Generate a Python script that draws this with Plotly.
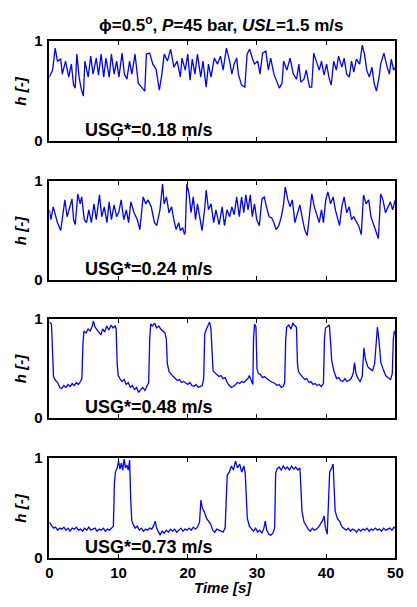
import plotly.graph_objects as go

# ---------------- data ----------------
t1 = [0.00,0.47,0.84,1.17,1.64,1.87,2.34,2.80,3.18,3.50,3.74,3.97,4.30,4.58,4.91,5.14,5.61,5.98,6.31,6.78,
      7.10,7.48,7.85,8.18,8.64,8.97,9.35,9.72,10.05,10.51,10.84,11.21,11.59,11.92,12.38,12.85,13.32,13.79,14.02,14.49,
      14.95,15.42,15.89,16.26,16.59,17.06,17.52,17.99,18.46,18.93,19.16,19.63,20.00,20.33,20.65,21.03,21.40,21.87,22.20,22.66,
      22.99,23.36,23.83,24.30,24.74,25.11,25.58,26.05,26.37,26.70,27.07,27.31,27.77,28.24,28.57,28.94,29.32,29.64,30.11,30.44,
      30.81,31.28,31.65,31.98,32.45,32.91,33.24,33.62,33.85,34.32,34.78,35.25,35.72,36.05,36.33,36.79,37.12,37.59,37.91,38.20,
      38.52,38.99,39.32,39.69,40.06,40.39,40.72,41.09,41.47,41.79,42.26,42.59,42.96,43.34,43.66,43.99,44.36,44.83,45.21,45.53,
      45.86,46.23,46.61,46.93,47.26,47.64,47.87,48.34,48.80,49.13,49.41,49.74,50.00]
h1 = [0.64,0.71,0.93,0.80,0.82,0.67,0.80,0.64,0.77,0.56,0.53,0.87,0.64,0.53,0.45,0.80,0.64,0.85,0.67,0.83,
      0.66,0.87,0.64,0.83,0.64,0.87,0.67,0.80,0.64,0.88,0.67,0.62,0.80,0.67,0.87,0.58,0.54,0.50,0.87,0.88,
      0.77,0.72,0.51,0.67,0.87,0.80,0.92,0.74,0.80,0.64,0.83,0.71,0.87,0.61,0.82,0.67,0.87,0.64,0.80,0.54,
      0.77,0.64,0.83,0.77,0.85,0.71,0.93,0.80,0.67,0.77,0.83,0.67,0.56,0.54,0.87,0.92,0.83,0.77,0.80,0.67,
      0.88,0.90,0.71,0.83,0.67,0.59,0.53,0.58,0.80,0.71,0.83,0.67,0.62,0.77,0.59,0.62,0.71,0.54,0.54,0.88,
      0.80,0.71,0.80,0.66,0.77,0.64,0.56,0.80,0.71,0.85,0.74,0.83,0.67,0.64,0.80,0.69,0.82,0.77,0.96,0.87,
      0.71,0.64,0.74,0.58,0.50,0.64,0.77,0.88,0.74,0.67,0.82,0.71,0.74]

t2 = [0.00,0.23,0.56,0.93,1.17,1.64,1.96,2.24,2.57,2.90,3.27,3.50,3.74,4.11,4.44,4.67,5.05,5.37,5.70,6.07,
      6.45,6.78,7.24,7.57,7.94,8.32,8.64,8.97,9.35,9.72,10.05,10.37,10.75,11.12,11.45,11.78,12.24,12.71,13.08,13.55,
      13.93,14.25,14.72,15.19,15.51,15.98,16.36,16.59,16.92,17.29,17.66,17.99,18.32,18.69,18.93,19.25,19.53,19.63,19.86,20.19,
      20.47,20.79,21.12,21.40,21.73,22.06,22.43,22.66,22.99,23.36,23.74,24.07,24.53,24.97,25.30,25.67,26.05,26.37,26.70,27.07,
      27.45,27.77,28.10,28.38,28.71,29.04,29.32,29.64,29.97,30.34,30.72,31.05,31.37,31.75,32.12,32.45,32.77,33.15,33.52,33.85,
      34.08,34.46,34.78,35.11,35.48,35.86,36.19,36.51,36.89,37.26,37.59,37.92,38.29,38.66,38.99,39.32,39.60,39.93,40.25,40.63,
      41.00,41.33,41.65,41.93,42.26,42.59,42.96,43.34,43.66,43.99,44.36,44.69,45.07,45.39,45.77,46.14,46.47,46.79,47.17,47.54,
      47.87,48.20,48.57,48.94,49.27,49.60,49.97]
h2 = [0.71,0.61,0.74,0.64,0.58,0.50,0.68,0.81,0.64,0.74,0.82,0.61,0.56,0.87,0.77,0.84,0.61,0.58,0.71,0.58,
      0.77,0.61,0.86,0.64,0.74,0.58,0.79,0.61,0.76,0.64,0.69,0.81,0.61,0.71,0.58,0.79,0.68,0.61,0.51,0.84,
      0.77,0.81,0.74,0.58,0.55,0.71,0.97,0.77,0.84,0.68,0.74,0.61,0.51,0.58,0.50,0.53,0.46,0.48,0.97,0.87,
      0.68,0.84,0.61,0.77,0.64,0.50,0.71,0.91,0.71,0.77,0.58,0.71,0.56,0.74,0.55,0.71,0.64,0.74,0.66,0.84,
      0.64,0.84,0.68,0.86,0.71,0.86,0.64,0.77,0.61,0.55,0.82,0.84,0.74,0.64,0.63,0.58,0.51,0.55,0.64,0.77,
      0.94,0.81,0.74,0.81,0.58,0.68,0.76,0.64,0.51,0.45,0.64,0.87,0.74,0.64,0.58,0.71,0.58,0.81,0.89,0.77,
      0.84,0.71,0.61,0.55,0.74,0.84,0.68,0.74,0.61,0.64,0.59,0.55,0.46,0.86,0.77,0.81,0.64,0.58,0.51,0.42,
      0.87,0.81,0.68,0.74,0.79,0.71,0.81]

t3 = [0.0,0.3,0.45,0.6,0.9,1.2,1.5,1.8,2.1,2.4,2.7,3.0,3.3,3.6,3.9,4.2,4.5,4.7,4.85,5.0,
      5.3,5.6,5.9,6.2,6.35,6.6,6.9,7.2,7.45,7.7,8.0,8.3,8.6,8.9,9.2,9.5,9.65,9.8,9.95,10.2,
      10.5,10.8,11.1,11.4,11.7,12.0,12.3,12.6,12.9,13.2,13.5,13.8,14.1,14.35,14.5,14.65,14.9,15.2,15.5,15.8,
      16.1,16.4,16.7,16.9,17.05,17.3,17.6,17.9,18.2,18.5,18.8,19.1,19.4,19.7,20.0,20.3,20.6,20.9,21.2,21.5,
      21.8,22.1,22.3,22.45,22.7,23.0,23.15,23.35,23.5,23.65,23.9,24.2,24.5,24.8,25.1,25.4,25.7,26.0,26.3,26.6,
      26.9,27.2,27.5,27.8,28.1,28.4,28.7,28.9,29.2,29.4,29.5,29.65,29.85,30.0,30.2,30.5,30.8,31.1,31.4,31.7,
      32.0,32.3,32.6,32.9,33.2,33.5,33.8,34.0,34.15,34.3,34.6,34.9,35.2,35.5,35.7,35.85,36.0,36.3,36.6,36.9,
      37.2,37.5,37.8,38.1,38.4,38.7,39.0,39.3,39.6,39.75,39.9,40.2,40.45,40.65,40.8,41.1,41.5,41.8,42.1,42.4,
      42.7,43.0,43.3,43.6,43.9,44.1,44.3,44.6,44.9,45.2,45.45,45.65,46.0,46.3,46.7,47.0,47.25,47.4,47.6,47.9,
      48.2,48.6,48.9,49.3,49.55,49.7,49.85,50.0]
h3 = [0.97,0.95,0.70,0.42,0.38,0.36,0.31,0.30,0.33,0.31,0.34,0.32,0.35,0.33,0.36,0.34,0.37,0.40,0.75,0.88,
      0.86,0.90,0.88,0.93,0.98,0.92,0.89,0.86,0.84,0.90,0.87,0.93,0.89,0.94,0.91,0.93,0.90,0.55,0.43,0.40,
      0.37,0.39,0.34,0.36,0.31,0.33,0.29,0.31,0.26,0.29,0.31,0.28,0.33,0.36,0.80,0.95,0.93,0.96,0.91,0.93,
      0.90,0.88,0.86,0.80,0.55,0.47,0.44,0.42,0.40,0.38,0.39,0.36,0.37,0.35,0.34,0.36,0.33,0.32,0.34,0.31,
      0.32,0.33,0.40,0.85,0.90,0.94,0.97,0.90,0.70,0.48,0.46,0.44,0.42,0.43,0.40,0.41,0.36,0.33,0.31,0.32,
      0.34,0.36,0.35,0.37,0.36,0.38,0.40,0.43,0.38,0.34,0.80,0.95,0.92,0.50,0.45,0.44,0.41,0.42,0.40,0.38,
      0.37,0.36,0.35,0.33,0.34,0.31,0.32,0.36,0.80,0.92,0.94,0.90,0.96,0.93,0.92,0.55,0.47,0.44,0.42,0.39,
      0.40,0.36,0.37,0.34,0.35,0.33,0.34,0.32,0.35,0.80,0.91,0.93,0.94,0.75,0.58,0.48,0.40,0.41,0.38,0.37,
      0.40,0.37,0.38,0.40,0.45,0.56,0.45,0.40,0.37,0.42,0.71,0.60,0.52,0.50,0.48,0.55,0.85,0.92,0.80,0.56,
      0.50,0.43,0.41,0.39,0.45,0.80,0.88,0.85]

t4 = [0.0,0.3,0.6,0.9,1.2,1.5,1.8,2.1,2.4,2.7,3.0,3.3,3.6,3.9,4.2,4.5,4.8,5.1,5.4,5.7,
      6.0,6.3,6.6,6.9,7.2,7.5,7.8,8.1,8.4,8.7,9.0,9.25,9.4,9.55,9.8,10.0,10.2,10.4,10.6,10.8,
      11.0,11.2,11.4,11.6,11.75,11.9,12.1,12.4,12.7,13.0,13.3,13.6,13.9,14.2,14.5,14.8,15.1,15.3,15.5,15.8,
      16.0,16.3,16.6,16.9,17.2,17.5,17.8,18.1,18.4,18.7,19.0,19.3,19.6,19.9,20.2,20.5,20.8,21.1,21.4,21.7,
      21.9,22.1,22.4,22.7,23.0,23.3,23.6,23.9,24.2,24.5,24.8,25.1,25.4,25.55,25.7,26.0,26.3,26.6,26.9,27.2,
      27.5,27.8,28.1,28.3,28.45,28.6,28.9,29.2,29.5,29.8,30.1,30.4,30.7,31.0,31.2,31.4,31.7,32.0,32.3,32.55,
      32.7,32.9,33.2,33.5,33.8,34.1,34.4,34.7,35.0,35.3,35.6,35.9,36.2,36.35,36.5,36.8,37.1,37.4,37.7,38.0,
      38.3,38.6,38.9,39.2,39.5,39.7,39.9,40.15,40.35,40.5,40.8,41.0,41.15,41.3,41.6,42.0,42.3,42.6,42.9,43.2,
      43.5,43.8,44.1,44.4,44.7,45.0,45.3,45.6,45.9,46.2,46.5,46.8,47.1,47.4,47.7,48.0,48.3,48.6,48.9,49.2,
      49.5,49.8,50.0]
h4 = [0.36,0.33,0.30,0.31,0.28,0.30,0.29,0.31,0.28,0.30,0.27,0.30,0.29,0.31,0.28,0.29,0.27,0.30,0.28,0.31,
      0.28,0.29,0.30,0.27,0.29,0.28,0.30,0.27,0.29,0.28,0.30,0.32,0.75,0.86,0.90,0.97,0.89,0.95,0.88,0.99,
      0.90,0.93,0.88,0.98,0.60,0.38,0.34,0.30,0.32,0.28,0.30,0.27,0.29,0.28,0.30,0.29,0.33,0.37,0.30,0.26,
      0.23,0.27,0.25,0.28,0.26,0.29,0.27,0.29,0.26,0.28,0.30,0.27,0.29,0.28,0.30,0.28,0.31,0.29,0.31,0.36,
      0.58,0.50,0.46,0.40,0.37,0.34,0.28,0.26,0.29,0.28,0.27,0.26,0.30,0.60,0.83,0.86,0.92,0.88,0.97,0.90,
      0.94,0.86,0.92,0.85,0.55,0.40,0.32,0.30,0.27,0.30,0.26,0.28,0.25,0.30,0.37,0.28,0.24,0.23,0.25,0.30,
      0.85,0.89,0.91,0.88,0.92,0.89,0.91,0.88,0.92,0.89,0.91,0.88,0.90,0.70,0.47,0.36,0.32,0.29,0.27,0.30,
      0.28,0.29,0.31,0.34,0.38,0.42,0.30,0.24,0.55,0.86,0.90,0.94,0.70,0.47,0.40,0.36,0.31,0.29,0.28,0.30,
      0.27,0.29,0.28,0.26,0.29,0.27,0.29,0.28,0.30,0.27,0.29,0.28,0.30,0.28,0.29,0.27,0.30,0.28,0.29,0.30,
      0.28,0.31,0.30]

labels = ["USG*=0.18 m/s", "USG*=0.24 m/s", "USG*=0.48 m/s", "USG*=0.73 m/s"]
x_ticks = [0, 10, 20, 30, 40, 50]
y_ticks = [0, 1]

# ---------------- figure ----------------
W, H = 417, 607
FONT = "Liberation Sans, Arial, sans-serif"
x0, x1 = 46.7 / W, 403 / W
panels_px = [(33, 136), (177, 279), (319, 421), (462, 565)]

fig = go.Figure()
series = [(t1, h1), (t2, h2), (t3, h3), (t4, h4)]
layout = {}
for i, ((tt, hh), (top, bot)) in enumerate(zip(series, panels_px)):
    n = i + 1
    xa = "x" if n == 1 else f"x{n}"
    ya = "y" if n == 1 else f"y{n}"
    fig.add_trace(go.Scatter(x=tt, y=hh, mode="lines", xaxis=xa, yaxis=ya,
                             line=dict(color="#0000ff", width=1.3), showlegend=False,
                             hoverinfo="skip"))
    last = (n == 4)
    layout["xaxis" if n == 1 else f"xaxis{n}"] = dict(
        domain=[x0, x1], anchor=ya, range=[0, 50], tickvals=x_ticks,
        showticklabels=last, ticks="inside", ticklen=4, tickwidth=1, tickcolor="black",
        showline=True, linecolor="black", linewidth=1.5, mirror="ticks",
        showgrid=False, zeroline=False,
        tickfont=dict(family=FONT, size=15, color="black", weight="bold"),
    )
    layout["yaxis" if n == 1 else f"yaxis{n}"] = dict(
        domain=[1 - bot / H, 1 - top / H], anchor=xa, range=[0, 1], tickvals=y_ticks,
        ticks="inside", ticklen=4, tickwidth=1, tickcolor="black",
        showline=True, linecolor="black", linewidth=1.5, mirror="ticks",
        showgrid=False, zeroline=False, ticklabelstandoff=2,
        tickfont=dict(family=FONT, size=15, color="black", weight="bold"),
    )

annotations = []
for i, (top, bot) in enumerate(panels_px):
    annotations.append(dict(xref="paper", yref="paper", x=81 / W, y=1 - (bot - 12) / H,
                            xanchor="left", yanchor="middle", showarrow=False,
                            text="<b>" + labels[i] + "</b>",
                            font=dict(family=FONT, size=18, color="black")))
    annotations.append(dict(xref="paper", yref="paper", x=17 / W, y=1 - ((top + bot) / 2) / H,
                            xanchor="center", yanchor="middle", showarrow=False, textangle=-90,
                            text="<b><i>h [-]</i></b>",
                            font=dict(family=FONT, size=15, color="black")))
annotations.append(dict(xref="paper", yref="paper", x=223 / W, y=1 - 15 / H,
                        xanchor="center", yanchor="middle", showarrow=False,
                        text="<b>ϕ=0.5<sup>o</sup>, <i>P</i>=45 bar, <i>USL</i>=1.5 m/s</b>",
                        font=dict(family=FONT, size=17, color="black")))
annotations.append(dict(xref="paper", yref="paper", x=225 / W, y=1 - 595 / H,
                        xanchor="center", yanchor="middle", showarrow=False,
                        text="<b><i>Time [s]</i></b>",
                        font=dict(family=FONT, size=15, color="black")))

fig.update_layout(width=W, height=H, margin=dict(l=0, r=0, t=0, b=0),
                  paper_bgcolor="white", plot_bgcolor="white",
                  annotations=annotations, **layout)
fig.write_html("out.html")
